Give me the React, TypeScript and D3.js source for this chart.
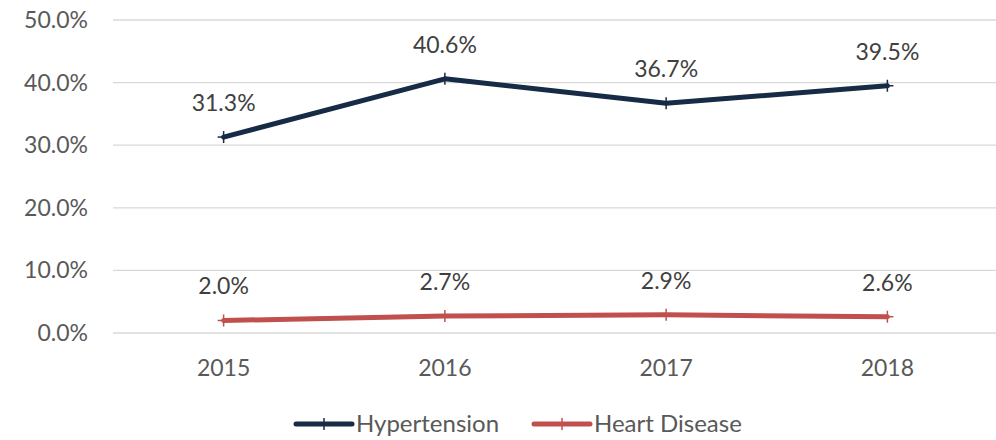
import React from 'react';
import * as d3 from 'd3';

const years = ['2015', '2016', '2017', '2018'];
const hypertension = [31.3, 40.6, 36.7, 39.5];
const heartDisease = [2.0, 2.7, 2.9, 2.6];
const yTicks = [0, 10, 20, 30, 40, 50];

const series = [
  { name: 'Hypertension', values: hypertension, color: '#172a46' },
  { name: 'Heart Disease', values: heartDisease, color: '#c0504d' },
];

const W = 996, H = 440;
const FONT = 'Lato, "Open Sans", sans-serif';

export default function App() {
  // plot area
  const left = 113, right = 998, top = 20, bottom = 333;
  const x = d3.scaleBand().domain(years).range([left, right]);
  const y = d3.scaleLinear().domain([0, 50]).range([bottom, top]);
  const cx = (d: string) => (x(d) as number) + x.bandwidth() / 2;

  const line = d3.line<number>()
    .x((_, i) => cx(years[i]))
    .y(d => y(d));

  // legend
  const legend = [
    { x0: 296, textX: 356 },
    { x0: 534, textX: 594 },
  ];

  return (
    <svg width={W} height={H} style={{ position: 'absolute', left: 0, top: 0, fontFamily: FONT }}>
      <rect width={W} height={H} fill="#fff" />
      {yTicks.map(t => (
        <g key={t}>
          <line x1={left} x2={right} y1={y(t)} y2={y(t)} stroke="#d9d9d9" strokeWidth={1.3} />
          <text x={88} y={y(t)} dy="0.35em" textAnchor="end" fontSize={23} fill="#595959">
            {t.toFixed(1)}%
          </text>
        </g>
      ))}
      {years.map(yr => (
        <text key={yr} x={cx(yr)} y={368} dy="0.35em" textAnchor="middle" fontSize={23} fill="#595959">
          {yr}
        </text>
      ))}
      {series.map(s => (
        <g key={s.name}>
          <path d={line(s.values) || ''} fill="none" stroke={s.color} strokeWidth={5} strokeLinejoin="round" strokeLinecap="round" />
          {s.values.map((v, i) => (
            <g key={i}>
              <line x1={cx(years[i]) - 6} x2={cx(years[i]) + 6} y1={y(v)} y2={y(v)} stroke={s.color} strokeWidth={1.5} />
              <line x1={cx(years[i])} x2={cx(years[i])} y1={y(v) - 6} y2={y(v) + 6} stroke={s.color} strokeWidth={1.5} />
              <text x={cx(years[i])} y={y(v) - 26} textAnchor="middle" fontSize={23} fill="#404040">
                {v.toFixed(1)}%
              </text>
            </g>
          ))}
        </g>
      ))}
      {series.map((s, i) => (
        <g key={s.name}>
          <line x1={legend[i].x0} x2={legend[i].x0 + 56} y1={424} y2={424} stroke={s.color} strokeWidth={5} strokeLinecap="round" />
          <line x1={legend[i].x0 + 28} x2={legend[i].x0 + 28} y1={418} y2={430} stroke={s.color} strokeWidth={1.5} />
          <text x={legend[i].textX} y={424} dy="0.35em" fontSize={24} fill="#595959">{s.name}</text>
        </g>
      ))}
    </svg>
  );
}
